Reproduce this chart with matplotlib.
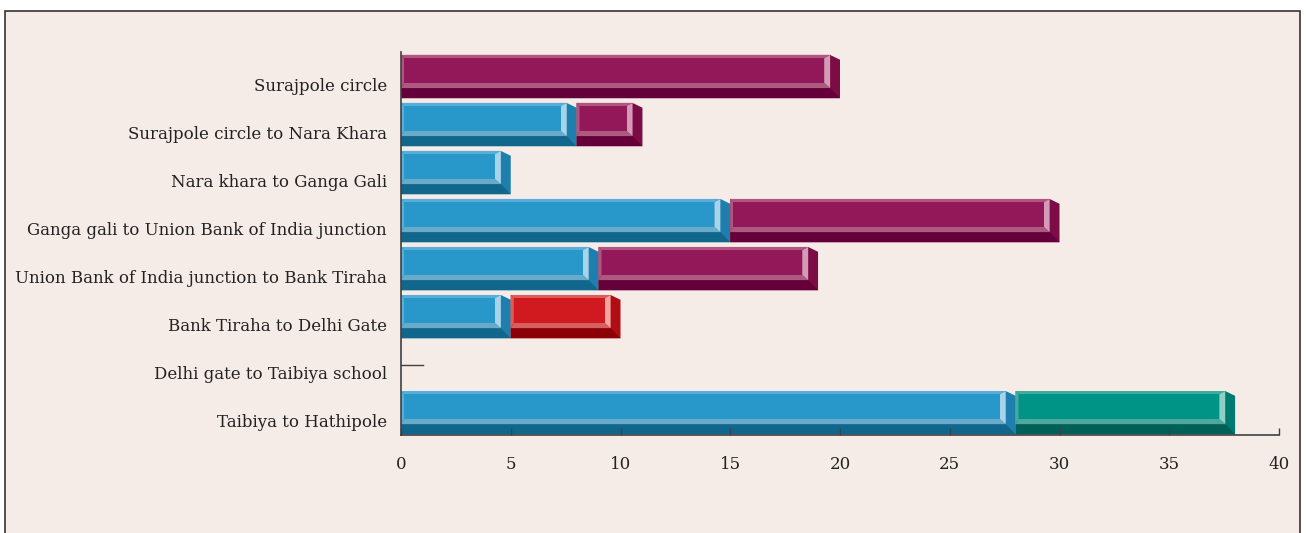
import matplotlib
matplotlib.use("Agg")
import matplotlib.pyplot as plt
import matplotlib.patches as patches

# data
routes = ["Surajpole circle",
          "Surajpole circle to Nara Khara",
          "Nara khara to Ganga Gali",
          "Ganga gali to Union Bank of India junction",
          "Union Bank of India junction to Bank Tiraha",
          "Bank Tiraha to Delhi Gate",
          "Delhi gate to Taibiya school",
          "Taibiya to Hathipole"]
blue_vals = [0, 8, 5, 15, 9, 5, 0, 28]
purple_vals = [20, 3, 0, 15, 10, 0, 0, 0]
red_vals = [0, 0, 0, 0, 0, 5, 0, 0]
teal_vals = [0, 0, 0, 0, 0, 0, 0, 10]
xticks = [0, 5, 10, 15, 20, 25, 30, 35, 40]

# colours per series: main, top rim, bottom rim, right rim, side, dark underside
palette = {
    "blue": ("#2898cb", "#58addb", "#69a9c9", "#a8d4ea", "#1e7fae", "#11668c"),
    "purple": ("#921859", "#b0557f", "#ad5a80", "#d59ab8", "#7c0c45", "#65003a"),
    "red": ("#d11a20", "#e05a5a", "#d66060", "#f2a6a0", "#b00e14", "#8c0008"),
    "teal": ("#009487", "#40ab9f", "#4ea89e", "#8fd0c6", "#007a70", "#005f57"),
}
series = [("blue", blue_vals), ("purple", purple_vals),
          ("red", red_vals), ("teal", teal_vals)]

bg = "#f5ece8"
fig = plt.figure(figsize=(13.06, 5.33), dpi=100, facecolor="white")
frame = patches.Rectangle((5 / 1306, -0.02), 1295 / 1306, 1.02 - 11 / 533,
                          transform=fig.transFigure, facecolor=bg,
                          edgecolor="#333333", linewidth=1.2, zorder=-10)
fig.patches.append(frame)
ax = fig.add_axes([401 / 1306, 98 / 533, 878 / 1306, 383 / 533])
ax.patch.set_alpha(0)

# bars sit a little above their category tick (3D look)
shift = 0.156


def bevel_bar(ax, left, width, y, cols, h=0.9):
    main, rim_t, rim_b, rim_r, side, dark = cols
    L, R = left, left + width
    top, bot = y - h / 2, y + h / 2
    d = 0.45   # depth of the right end
    face_b = top + 0.69
    a, b, t, u = 0.14, 0.27, 0.07, 0.11
    ax.fill([L, R - d, R, R, L], [top, top, top + 0.1, bot, bot], color=side, lw=0)
    ax.fill([L, R - d, R, L], [face_b, face_b, bot, bot], color=dark, lw=0)
    il, ir, it, ib = L + a, R - d - b, top + t, face_b - u
    fr = R - d
    ax.fill([L, fr, ir, il], [top, top, it, it], color=rim_t, lw=0)
    ax.fill([L, fr, ir, il], [face_b, face_b, ib, ib], color=rim_b, lw=0)
    ax.fill([L, il, il, L], [top, it, ib, face_b], color=rim_t, lw=0)
    ax.fill([fr, fr, ir, ir], [top, face_b, ib, it], color=rim_r, lw=0)
    ax.fill([il, ir, ir, il], [it, it, ib, ib], color=main, lw=0)


lefts = [0] * len(routes)
for name, vals in series:
    for i, v in enumerate(vals):
        if v > 0:
            bevel_bar(ax, lefts[i], v, i - shift, palette[name])
        lefts[i] += v

# empty row is drawn as a short stub in the original
for i, tot in enumerate(lefts):
    if tot == 0:
        ax.plot([0, 1], [i - shift, i - shift], color="#404040", lw=1)

ax.set_xlim(0, 40)
ax.set_ylim(7.31, -0.667)
ax.set_xticks(xticks)
ax.set_yticks(range(len(routes)))
ax.set_yticklabels(routes)
for s in ["top", "right"]:
    ax.spines[s].set_visible(False)
for s in ["left", "bottom"]:
    ax.spines[s].set_color("#404040")
    ax.spines[s].set_linewidth(1.2)
ax.tick_params(axis="x", direction="in", length=5, width=1, color="#404040",
               pad=15, labelsize=12, labelcolor="#222222")
ax.tick_params(axis="y", length=0, pad=10, labelsize=12, labelcolor="#222222")
for lab in ax.get_xticklabels() + ax.get_yticklabels():
    lab.set_fontfamily("DejaVu Serif")

fig.savefig("out.png", dpi=100, facecolor="white")
